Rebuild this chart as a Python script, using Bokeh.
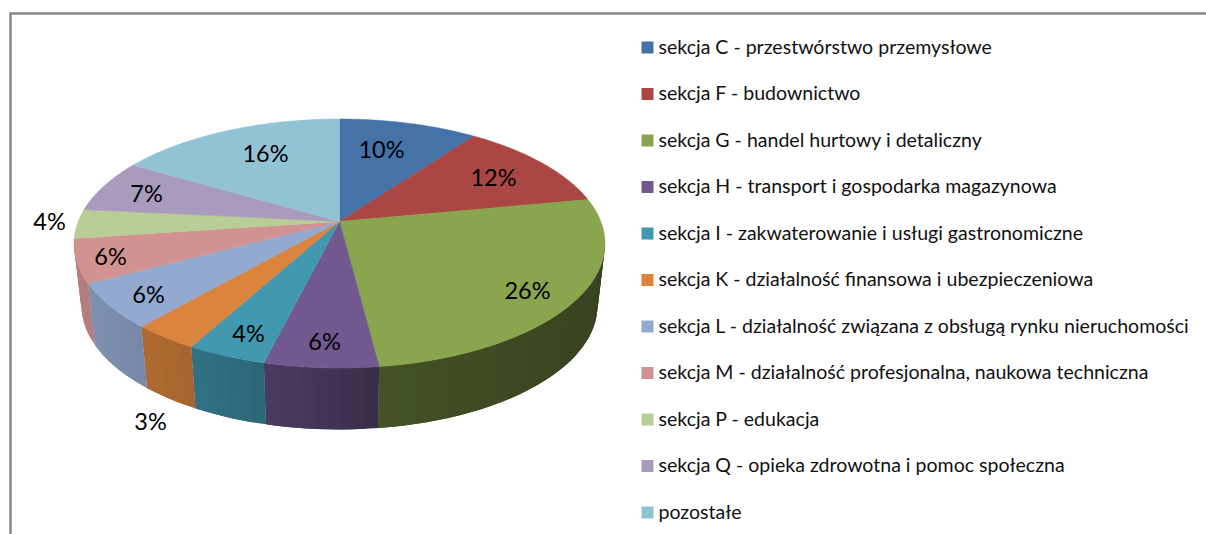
import numpy as np
from bokeh.plotting import figure
from bokeh.core.properties import value
from bokeh.embed import file_html
from bokeh.resources import INLINE

categories = [
    "sekcja C - przestwórstwo przemysłowe",
    "sekcja F - budownictwo",
    "sekcja G - handel hurtowy i detaliczny",
    "sekcja H - transport i gospodarka magazynowa",
    "sekcja I - zakwaterowanie i usługi gastronomiczne",
    "sekcja K - działalność finansowa i ubezpieczeniowa",
    "sekcja L - działalność związana z obsługą rynku nieruchomości",
    "sekcja M - działalność profesjonalna, naukowa techniczna",
    "sekcja P - edukacja",
    "sekcja Q - opieka zdrowotna i pomoc społeczna",
    "pozostałe",
]
shares = [10.0, 12.0, 26.0, 5.85, 4.1, 3.45, 5.8, 5.6, 3.8, 6.9, 16.5]
share_labels = ["10%", "12%", "26%", "6%", "4%", "3%", "6%", "6%", "4%", "7%", "16%"]
colors = ["#4572A7", "#AA4643", "#89A54E", "#71588F", "#4198AF", "#DB843D",
          "#93A9CF", "#D19392", "#B9CD96", "#A99BBD", "#92C3D4"]

# layout (reference-pixel coordinates)
label_x = [381, 493, 527, 324, 248, 150, 148, 110, 49, 146, 265]
label_y = [150, 178, 291, 342, 334, 422, 295, 257, 222, 194, 154]
TOP = dict(cx=339, cy=243, rx=265.5, ry=124.5)
BOT = dict(cx=339, cy=305, rx=258, ry=124)
APEX_T = -22 / 124.5
LEG_X, LEG_TX, LEG_Y0, LEG_DY = 647, 658, 47, 46.5
FONT = "Lato"


def unit(theta):
    """Perspective view of a disc: theta clockwise from the top."""
    u, v = np.sin(theta), -np.cos(theta)
    d = 1 + APEX_T * v
    return u * np.sqrt(1 - APEX_T ** 2) / d, (v + APEX_T) / d


def place(e, up, vp):
    return e["cx"] + e["rx"] * up, e["cy"] + e["ry"] * vp


def shade(c, f):
    r, g, b = (int(c[i:i + 2], 16) for i in (1, 3, 5))
    return "#%02x%02x%02x" % (int(r * f), int(g * f), int(b * f))


def wall_factor(um):
    return float(np.interp(um, [-1, -0.7, -0.4, -0.1, 0.15, 1], [0.87, 0.80, 0.71, 0.62, 0.50, 0.41]))


p = figure(width=1206, height=534, x_range=(0, 1206), y_range=(534, 0),
           output_backend="svg", toolbar_location=None, min_border=0,
           outline_line_color=None, background_fill_color="white")
p.axis.visible = False
p.grid.visible = False

p.line([10, 10, 1206], [534, 13, 13], line_color="#878787", line_width=2.5, line_join="miter")

edges = np.cumsum([0] + shares) / sum(shares) * 2 * np.pi

# side wall: each strip runs on under the next one, so no seams show
sx, sy, sc = [], [], []
for i in range(len(shares)):
    n = max(2, int((edges[i + 1] - edges[i]) / 0.04))
    th = np.linspace(edges[i], edges[i + 1], n + 1)
    up, vp = unit(th)
    xt, yt = place(TOP, up, vp)
    xb, yb = place(BOT, up, vp)
    for j in range(n):
        if (vp[j] + vp[j + 1]) / 2 < -0.02:
            continue
        k = min(j + 2, n)
        sx.append(np.r_[xt[j:k + 1], xb[j:k + 1][::-1]])
        sy.append(np.r_[yt[j:k + 1], yb[j:k + 1][::-1]])
        sc.append(shade(colors[i], wall_factor((up[j] + up[j + 1]) / 2)))
p.patches(sx, sy, fill_color=sc, line_color=None)

# top face
ax, ay = TOP["cx"], TOP["cy"] + TOP["ry"] * APEX_T
for i in range(len(shares)):
    th = np.linspace(edges[i], edges[i + 1], 80)
    xr, yr = place(TOP, *unit(th))
    p.patch(np.r_[ax, xr], np.r_[ay, yr], fill_color=colors[i], line_color=colors[i], line_width=0.5)

p.text(label_x, label_y, text=share_labels, text_font=value(FONT), text_font_size="23.5px",
       text_color="#000000", text_align="center", text_baseline="middle", y_offset=-1.5)

ly = [LEG_Y0 + LEG_DY * i for i in range(len(categories))]
p.scatter([LEG_X] * len(ly), ly, marker="square", size=12, fill_color=colors, line_color=None)
p.text([LEG_TX] * len(ly), ly, text=categories, text_font=value(FONT), text_font_size="19.55px",
       text_color="#111111", text_align="left", text_baseline="middle", y_offset=-1.5)

open("out.html", "w").write(file_html(p, INLINE))
